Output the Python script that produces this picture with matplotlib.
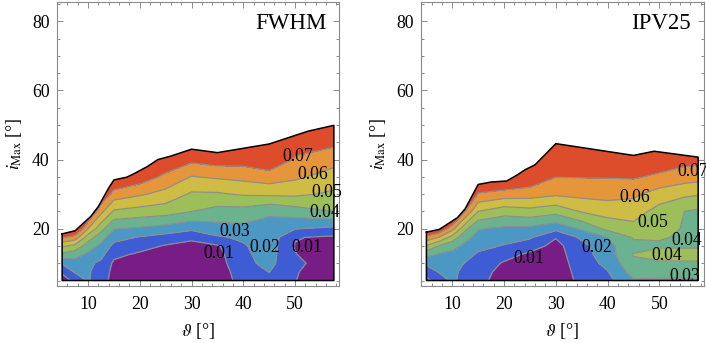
import numpy as np
import matplotlib.pyplot as plt
from matplotlib.patches import Polygon
from matplotlib.ticker import MultipleLocator

plt.rcParams['font.family'] = ['Liberation Serif', 'DejaVu Serif']
plt.rcParams['mathtext.fontset'] = 'stix'

# contour levels and band colours (lowest band first)
levels = [0.01, 0.02, 0.03, 0.04, 0.05, 0.06, 0.07]
band_colors = ['#781c86', '#3e5dd5', '#4b98c5', '#6ab38e',
               '#9dbf5a', '#cebc45', '#e5963b', '#dd4c2b']

# i_Max grid rows (deg)
imax_rows = [5, 7.5, 10, 12.5, 15, 17.5, 20, 25, 30, 35, 40, 45, 50]

# ---- FWHM panel: one list per theta column, values along imax_rows ----
fwhm_theta = [5, 7.5, 10, 12.5, 15, 20, 25, 30, 35, 40, 45, 50, 57.5]
fwhm_cols = [
    [0.005, 0.0118, 0.0214, 0.0376, 0.0517, 0.0715, 0.090, 0.110, 0.120, 0.130, 0.140, 0.150, 0.160],
    [0.013, 0.021, 0.0262, 0.0335, 0.0471, 0.0658, 0.085, 0.100, 0.115, 0.125, 0.135, 0.145, 0.155],
    [0.021, 0.021, 0.022, 0.028, 0.035, 0.045, 0.060, 0.085, 0.100, 0.110, 0.120, 0.130, 0.140],
    [0.015, 0.016, 0.018, 0.0229, 0.0278, 0.0345, 0.0435, 0.063, 0.080, 0.100, 0.110, 0.120, 0.130],
    [0.006, 0.007, 0.0085, 0.0121, 0.0174, 0.0235, 0.0304, 0.0486, 0.0659, 0.083, 0.100, 0.110, 0.120],
    [0.004, 0.005, 0.006, 0.0085, 0.0135, 0.0193, 0.0285, 0.0461, 0.0614, 0.076, 0.090, 0.100, 0.110],
    [0.003, 0.004, 0.005, 0.007, 0.0092, 0.0161, 0.0258, 0.0444, 0.0567, 0.0677, 0.078, 0.090, 0.100],
    [0.002, 0.003, 0.004, 0.005, 0.007, 0.0121, 0.0221, 0.0401, 0.0486, 0.0595, 0.0726, 0.085, 0.095],
    [0.004, 0.005, 0.006, 0.007, 0.009, 0.0187, 0.0261, 0.0364, 0.0488, 0.0614, 0.075, 0.088, 0.100],
    [0.014, 0.015, 0.017, 0.018, 0.019, 0.0216, 0.0273, 0.0363, 0.0511, 0.0629, 0.0745, 0.087, 0.100],
    [0.017, 0.0202, 0.023, 0.024, 0.025, 0.026, 0.0262, 0.0316, 0.0518, 0.0655, 0.078, 0.085, 0.095],
    [0.0102, 0.0105, 0.0112, 0.0102, 0.0096, 0.0105, 0.0205, 0.0353, 0.052, 0.0618, 0.069, 0.074, 0.082],
    [0.005, 0.006, 0.007, 0.007, 0.008, 0.0085, 0.0175, 0.040, 0.0483, 0.0556, 0.0638, 0.0725, 0.080],
]
fwhm_edge_theta = [5, 7.5, 10.5, 12, 14, 15, 17.5, 19, 21.5, 23.5, 26, 30, 35, 45, 52.5, 57.5]
fwhm_edge_imax = [18.5, 19.4, 23.5, 26.4, 31.8, 34.1, 34.9, 36.0, 38.0, 40.0, 41.0, 43.0, 42.0, 44.5, 48.2, 49.9]
fwhm_labels = [(0.07, 50.6, 40.9), (0.06, 53.5, 35.7), (0.05, 56.1, 30.4),
               (0.04, 55.7, 24.7), (0.03, 38.4, 19.3), (0.02, 44.2, 14.7),
               (0.01, 52.2, 14.7), (0.01, 35.2, 12.8)]

# ---- IPV25 panel ----
ipv_theta = [5, 7.5, 10, 12.5, 15, 20, 25, 30, 35, 40, 45, 50, 55, 57.5]
ipv_cols = [
    [0.008, 0.013, 0.0225, 0.0333, 0.0485, 0.0675, 0.085, 0.100, 0.110, 0.120, 0.130, 0.140, 0.150],
    [0.014, 0.021, 0.0245, 0.0285, 0.0392, 0.0592, 0.080, 0.100, 0.110, 0.120, 0.130, 0.140, 0.150],
    [0.022, 0.0225, 0.024, 0.027, 0.0333, 0.046, 0.0636, 0.095, 0.105, 0.115, 0.125, 0.135, 0.145],
    [0.016, 0.017, 0.0195, 0.0235, 0.0276, 0.0332, 0.0424, 0.070, 0.090, 0.100, 0.110, 0.120, 0.130],
    [0.014, 0.015, 0.016, 0.0185, 0.0229, 0.0266, 0.0306, 0.050, 0.0689, 0.085, 0.100, 0.110, 0.120],
    [0.004, 0.006, 0.009, 0.0138, 0.0193, 0.0239, 0.0282, 0.0443, 0.0654, 0.085, 0.100, 0.110, 0.120],
    [0.004, 0.005, 0.006, 0.008, 0.0143, 0.0213, 0.0275, 0.0465, 0.0643, 0.0785, 0.090, 0.100, 0.110],
    [0.003, 0.004, 0.005, 0.006, 0.007, 0.0105, 0.0228, 0.0435, 0.0616, 0.0702, 0.0775, 0.085, 0.095],
    [0.013, 0.014, 0.015, 0.016, 0.017, 0.0219, 0.0317, 0.0509, 0.0628, 0.0705, 0.080, 0.090, 0.100],
    [0.017, 0.0195, 0.0225, 0.025, 0.027, 0.030, 0.0425, 0.0543, 0.0634, 0.0706, 0.077, 0.085, 0.095],
    [0.029, 0.034, 0.038, 0.0405, 0.037, 0.041, 0.0467, 0.0547, 0.0618, 0.0712, 0.078, 0.085, 0.095],
    [0.0285, 0.034, 0.0385, 0.0445, 0.0385, 0.041, 0.0428, 0.0462, 0.0556, 0.0682, 0.076, 0.085, 0.095],
    [0.0285, 0.034, 0.0385, 0.0445, 0.0385, 0.0385, 0.0393, 0.0398, 0.052, 0.0647, 0.0735, 0.080, 0.090],
    [0.0285, 0.034, 0.0385, 0.0445, 0.0385, 0.037, 0.036, 0.0385, 0.051, 0.0637, 0.0735, 0.080, 0.090],
]
ipv_edge_theta = [5, 7.5, 11, 12.5, 15, 17.5, 20.5, 22.5, 24, 26, 30, 45, 49, 57.5]
ipv_edge_imax = [19.0, 19.8, 23.2, 25.8, 32.8, 33.5, 33.8, 35.5, 37.0, 38.5, 44.6, 41.2, 42.4, 40.7]
ipv_labels = [(0.07, 56.5, 36.4), (0.06, 45.3, 29.0), (0.05, 48.8, 21.9),
              (0.04, 55.2, 16.6), (0.04, 51.4, 12.3), (0.03, 54.9, 6.2),
              (0.02, 37.9, 14.7), (0.01, 24.7, 11.3)]


def draw_panel(ax, theta, cols, edge_t, edge_i, labels, name):
    z = np.array(cols).T
    # region that holds data: upper edge plus the bottom row
    px = list(edge_t) + [edge_t[-1], edge_t[0]]
    py = list(edge_i) + [imax_rows[0], imax_rows[0]]
    region = Polygon(np.column_stack([px, py]), closed=True, transform=ax.transData)

    cf = ax.contourf(theta, imax_rows, z, levels=[-1] + levels + [1], colors=band_colors)
    cf.set_clip_path(region)
    cl = ax.contour(theta, imax_rows, z, levels=levels, colors='#8e8e8e', linewidths=0.9)
    cl.set_clip_path(region)

    ax.plot(px + [px[0]], py + [py[0]], color='black', lw=1.1, zorder=5)

    for lev, x, y in labels:
        ax.text(x, y, f'{lev:.2f}', ha='center', va='center', fontsize=12.8, zorder=6)

    ax.text(0.956, 0.926, name, transform=ax.transAxes, ha='right', va='center', fontsize=16.5)

    ax.set_xlim(3.95, 58.55)
    ax.set_ylim(3.42, 85.58)
    ax.xaxis.set_major_locator(MultipleLocator(10))
    ax.xaxis.set_minor_locator(MultipleLocator(2))
    ax.yaxis.set_major_locator(MultipleLocator(20))
    ax.yaxis.set_minor_locator(MultipleLocator(5))
    ax.tick_params(which='both', direction='in', top=True, right=True, color='#8a8a8a',
                   width=0.7, labelsize=12.8)
    ax.tick_params(which='major', length=4.5)
    ax.tick_params(which='minor', length=2.3)
    ax.tick_params(axis='x', pad=7)
    ax.tick_params(axis='y', pad=5)
    for s in ax.spines.values():
        s.set_color('#8a8a8a')
        s.set_linewidth(0.8)
    ax.set_xlabel(r'$\vartheta$ [°]', fontsize=12.8, labelpad=6)
    ax.set_ylabel(r'$i_{\mathrm{Max}}$ [°]', fontsize=12.8, labelpad=6)


fig = plt.figure(figsize=(7.06, 3.43), dpi=100)
ax1 = fig.add_axes([0.0803, 0.1662, 0.4003, 0.828])
ax2 = fig.add_axes([0.5963, 0.1662, 0.4003, 0.828])

draw_panel(ax1, fwhm_theta, fwhm_cols, fwhm_edge_theta, fwhm_edge_imax, fwhm_labels, 'FWHM')
draw_panel(ax2, ipv_theta, ipv_cols, ipv_edge_theta, ipv_edge_imax, ipv_labels, 'IPV25')

fig.savefig('out.png', dpi=100)
